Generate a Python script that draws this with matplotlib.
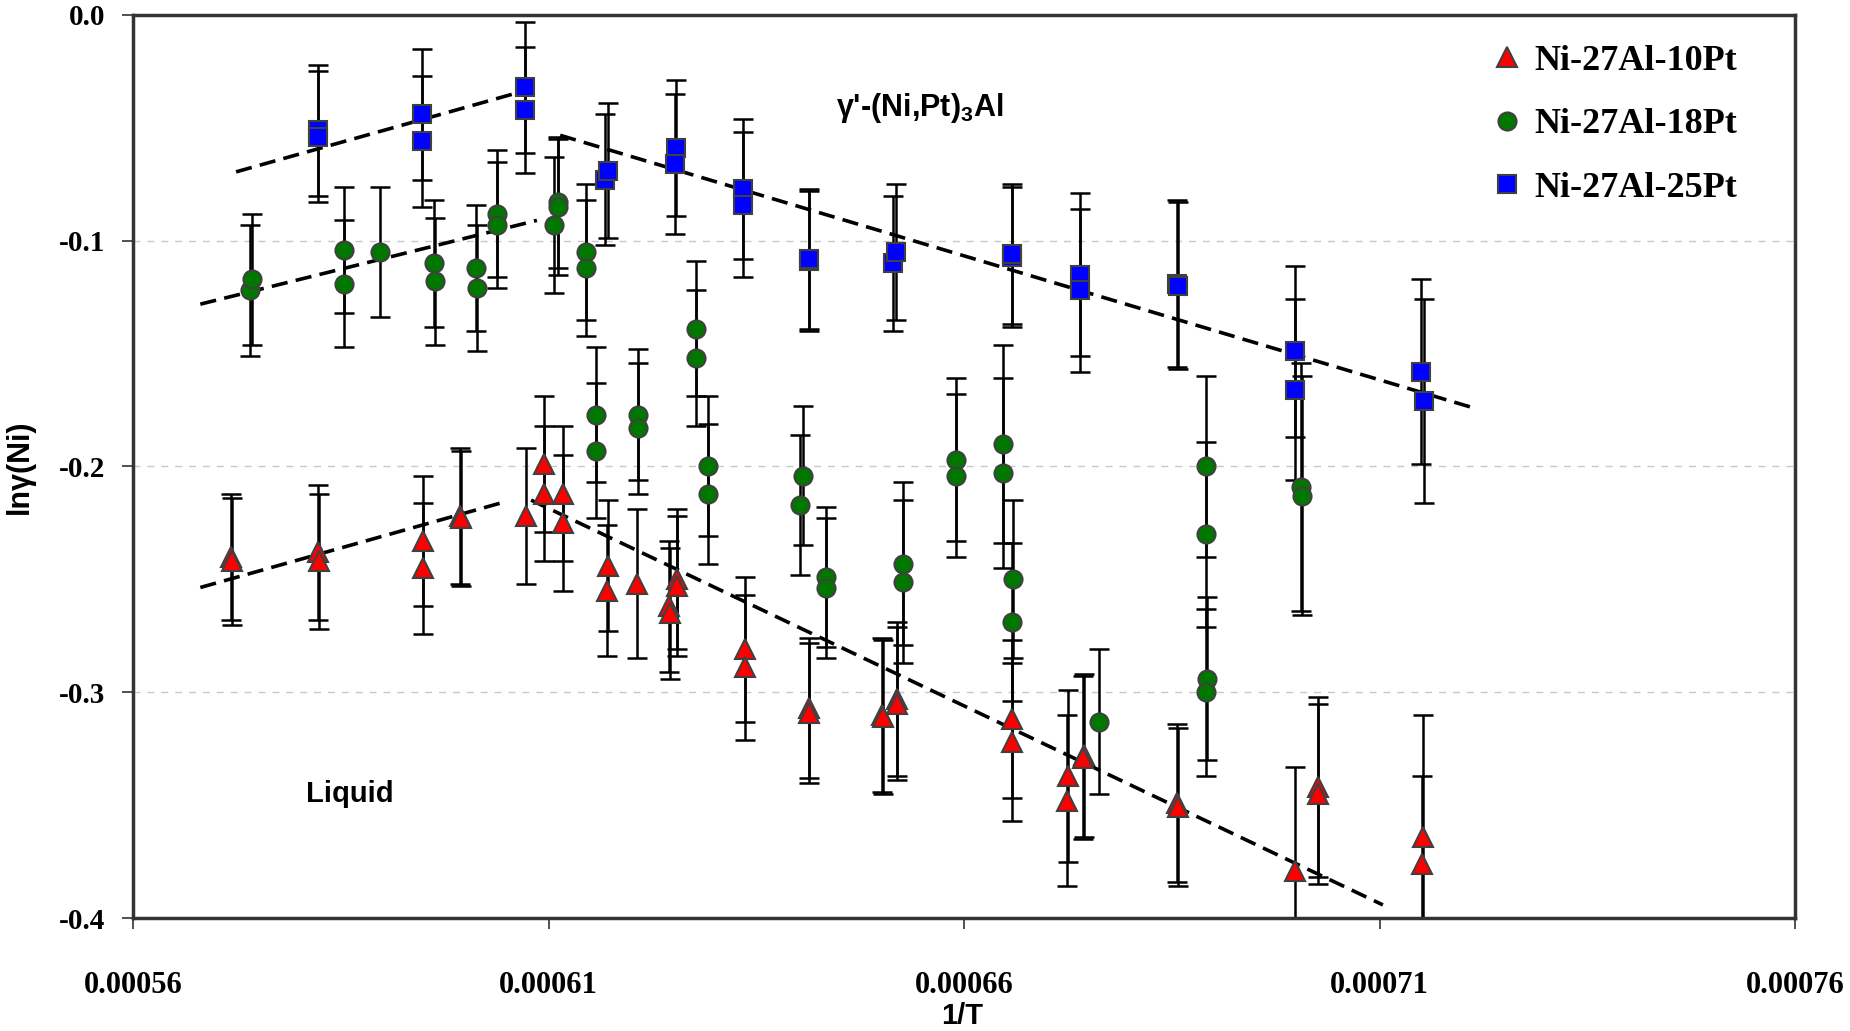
import matplotlib
matplotlib.use('Agg')
import matplotlib.pyplot as plt
from matplotlib.lines import Line2D

plt.rcParams['mathtext.fontset'] = 'custom'
plt.rcParams['mathtext.rm'] = 'Liberation Sans'
plt.rcParams['mathtext.bf'] = 'Liberation Sans:bold'

# Ni-27Al-10Pt (red triangles)
x10 = [0.0005718, 0.0005719, 0.0005823, 0.0005824, 0.0005949, 0.0005949,
       0.0005994, 0.0005995, 0.0006073, 0.0006094, 0.0006094, 0.0006117,
       0.0006117, 0.0006171, 0.0006170, 0.0006207, 0.0006245, 0.0006246,
       0.0006255, 0.0006255, 0.0006336, 0.0006336, 0.0006413, 0.0006413,
       0.0006501, 0.0006502, 0.0006519, 0.0006519, 0.0006658, 0.0006658,
       0.0006725, 0.0006724, 0.0006744, 0.0006743, 0.0006856, 0.0006857,
       0.0006998, 0.0007026, 0.0007026, 0.0007152, 0.0007151]
y10 = [-0.240, -0.242, -0.238, -0.242, -0.233, -0.245,
       -0.222, -0.223, -0.222, -0.199, -0.212, -0.212,
       -0.225, -0.244, -0.255, -0.252, -0.262, -0.265,
       -0.250, -0.253, -0.281, -0.289, -0.307, -0.309,
       -0.310, -0.311, -0.303, -0.305, -0.312, -0.322,
       -0.337, -0.348, -0.328, -0.329, -0.349, -0.351,
       -0.379, -0.342, -0.345, -0.364, -0.376]
e10 = [0.028, 0.028, 0.030, 0.030, 0.029, 0.029,
       0.030, 0.030, 0.030, 0.030, 0.030, 0.030,
       0.030, 0.029, 0.029, 0.033, 0.029, 0.029,
       0.031, 0.031, 0.032, 0.032, 0.031, 0.031,
       0.034, 0.034, 0.034, 0.034, 0.035, 0.035,
       0.038, 0.038, 0.036, 0.036, 0.035, 0.035,
       0.046, 0.040, 0.040, 0.054, 0.039]

# Ni-27Al-18Pt (green circles)
x18 = [0.0005741, 0.0005743, 0.0005854, 0.0005854, 0.0005897, 0.0005962,
       0.0005963, 0.0006013, 0.0006014, 0.0006038, 0.0006038, 0.0006106,
       0.0006111, 0.0006111, 0.0006145, 0.0006145, 0.0006157, 0.0006157,
       0.0006208, 0.0006208, 0.0006278, 0.0006277, 0.0006292, 0.0006292,
       0.0006406, 0.0006403, 0.0006434, 0.0006434, 0.0006526, 0.0006527,
       0.0006590, 0.0006590, 0.0006647, 0.0006647, 0.0006659, 0.0006658,
       0.0006763, 0.0006891, 0.0006891, 0.0006892, 0.0006891, 0.0007006,
       0.0007007]
y18 = [-0.122, -0.117, -0.104, -0.119, -0.105, -0.110,
       -0.118, -0.112, -0.121, -0.088, -0.093, -0.093,
       -0.083, -0.085, -0.105, -0.112, -0.177, -0.193,
       -0.177, -0.183, -0.139, -0.152, -0.200, -0.212,
       -0.204, -0.217, -0.249, -0.254, -0.243, -0.251,
       -0.197, -0.204, -0.190, -0.203, -0.250, -0.269,
       -0.313, -0.200, -0.230, -0.294, -0.300, -0.209,
       -0.213]
e18 = [0.029, 0.029, 0.028, 0.028, 0.029, 0.028,
       0.028, 0.028, 0.028, 0.028, 0.028, 0.030,
       0.029, 0.030, 0.030, 0.030, 0.030, 0.030,
       0.029, 0.029, 0.030, 0.030, 0.031, 0.031,
       0.031, 0.031, 0.031, 0.031, 0.036, 0.036,
       0.036, 0.036, 0.044, 0.042, 0.035, 0.035,
       0.032, 0.040, 0.041, 0.036, 0.037, 0.055,
       0.053]

# Ni-27Al-25Pt (blue squares)
x25 = [0.0005823, 0.0005823, 0.0005948, 0.0005948, 0.0006072, 0.0006072,
       0.0006168, 0.0006171, 0.0006253, 0.0006252, 0.0006334, 0.0006334,
       0.0006413, 0.0006413, 0.0006515, 0.0006518, 0.0006658, 0.0006658,
       0.0006739, 0.0006739, 0.0006856, 0.0006857, 0.0006998, 0.0006998,
       0.0007150, 0.0007153]
y25 = [-0.051, -0.054, -0.044, -0.056, -0.032, -0.042,
       -0.073, -0.069, -0.059, -0.066, -0.077, -0.084,
       -0.109, -0.108, -0.110, -0.105, -0.107, -0.106,
       -0.115, -0.122, -0.119, -0.120, -0.149, -0.166,
       -0.158, -0.171]
e25 = [0.029, 0.029, 0.029, 0.029, 0.029, 0.028,
       0.029, 0.030, 0.030, 0.031, 0.031, 0.032,
       0.031, 0.031, 0.030, 0.030, 0.031, 0.031,
       0.036, 0.036, 0.037, 0.037, 0.038, 0.040,
       0.041, 0.045]

# dashed trend lines (two segments per alloy where drawn)
fit25a_x = [0.0005724, 0.0006072]
fit25a_y = [-0.0695, -0.0335]
fit25b_x = [0.0006114, 0.0007218]
fit25b_y = [-0.0533, -0.1746]
fit18_x = [0.0005681, 0.0006086]
fit18_y = [-0.1281, -0.0910]
fit10a_x = [0.0005681, 0.0006050]
fit10a_y = [-0.2536, -0.2154]
fit10b_x = [0.0006079, 0.0007104]
fit10b_y = [-0.2149, -0.3942]

xticks = [0.00056, 0.00061, 0.00066, 0.00071, 0.00076]
xtick_labels = ['0.00056', '0.00061', '0.00066', '0.00071', '0.00076']
yticks = [0.0, -0.1, -0.2, -0.3, -0.4]
ytick_labels = ['0.0', '-0.1', '-0.2', '-0.3', '-0.4']

series = [
    ('Ni-27Al-10Pt', x10, y10, e10, '^', '#ff0000', 14),
    ('Ni-27Al-18Pt', x18, y18, e18, 'o', '#007800', 13),
    ('Ni-27Al-25Pt', x25, y25, e25, 's', '#0000ff', 13),
]

fig = plt.figure(figsize=(18.5, 10.31), dpi=100)
ax = fig.add_axes([0.0719, 0.1096, 0.8984, 0.8759])

ax.yaxis.grid(True, linestyle=(0, (5, 5)), color='#c8c8c8', lw=1)
ax.set_axisbelow(True)

handles = []
for name, xs, ys, es, mk, col, ms in series:
    ax.errorbar(xs, ys, yerr=es, fmt='none', ecolor='black', elinewidth=1.8,
                capsize=7, capthick=1.8, zorder=2)
    ax.plot(xs, ys, ls='none', marker=mk, ms=ms, mfc=col, mec='#404040',
            mew=1.5, zorder=4)
    handles.append(Line2D([], [], ls='none', marker=mk, ms=ms, mfc=col,
                          mec='#404040', mew=1.5, label=name))

for fx, fy in [(fit25a_x, fit25a_y), (fit25b_x, fit25b_y), (fit18_x, fit18_y),
               (fit10a_x, fit10a_y), (fit10b_x, fit10b_y)]:
    ax.plot(fx, fy, color='black', lw=2.6, dashes=(4.5, 2.3), zorder=3)

ax.set_xlim(0.00056, 0.00076)
ax.set_ylim(-0.4, 0.0)
ax.set_xticks(xticks)
ax.set_xticklabels(xtick_labels)
ax.set_yticks(yticks)
ax.set_yticklabels(ytick_labels)
for lab in ax.get_xticklabels():
    lab.set_fontfamily('Liberation Serif')
    lab.set_fontweight('bold')
    lab.set_fontsize(22)
for lab in ax.get_yticklabels():
    lab.set_fontfamily('Liberation Serif')
    lab.set_fontweight('bold')
    lab.set_fontsize(21)
ax.tick_params(axis='x', direction='out', length=8, width=1.2, color='#333333', pad=30)
ax.tick_params(axis='y', direction='out', length=8, width=1.2, color='#333333', pad=12)

for sp in ax.spines.values():
    sp.set_color('#333333')
    sp.set_linewidth(2.5)

ax.set_xlabel('1/T', fontfamily='Liberation Sans', fontweight='bold', fontsize=21,
              va='center')
ax.xaxis.set_label_coords(0.499, -0.1085)
ax.set_ylabel('lnγ(Ni)', fontfamily=['Liberation Sans', 'DejaVu Sans'],
              fontweight='bold', fontsize=22)
ax.yaxis.set_label_coords(-0.059, 0.50)

ax.text(0.0006547, -0.0413, "γ'-(Ni,Pt)$_{\\mathbf{3}}$Al",
        fontfamily=['Liberation Sans', 'DejaVu Sans'], fontweight='bold',
        fontsize=22, ha='center', va='center')
ax.text(0.0005861, -0.345, 'Liquid', fontfamily='Liberation Sans',
        fontweight='bold', fontsize=21, ha='center', va='center')

ax.legend(handles=handles, loc='upper left', bbox_to_anchor=(0.818, 0.967),
          frameon=False, prop={'family': 'Liberation Serif', 'weight': 'bold', 'size': 26},
          handlelength=0.8, handletextpad=0.35, labelspacing=0.83,
          borderaxespad=0, borderpad=0)

fig.savefig('out.png', dpi=100)
